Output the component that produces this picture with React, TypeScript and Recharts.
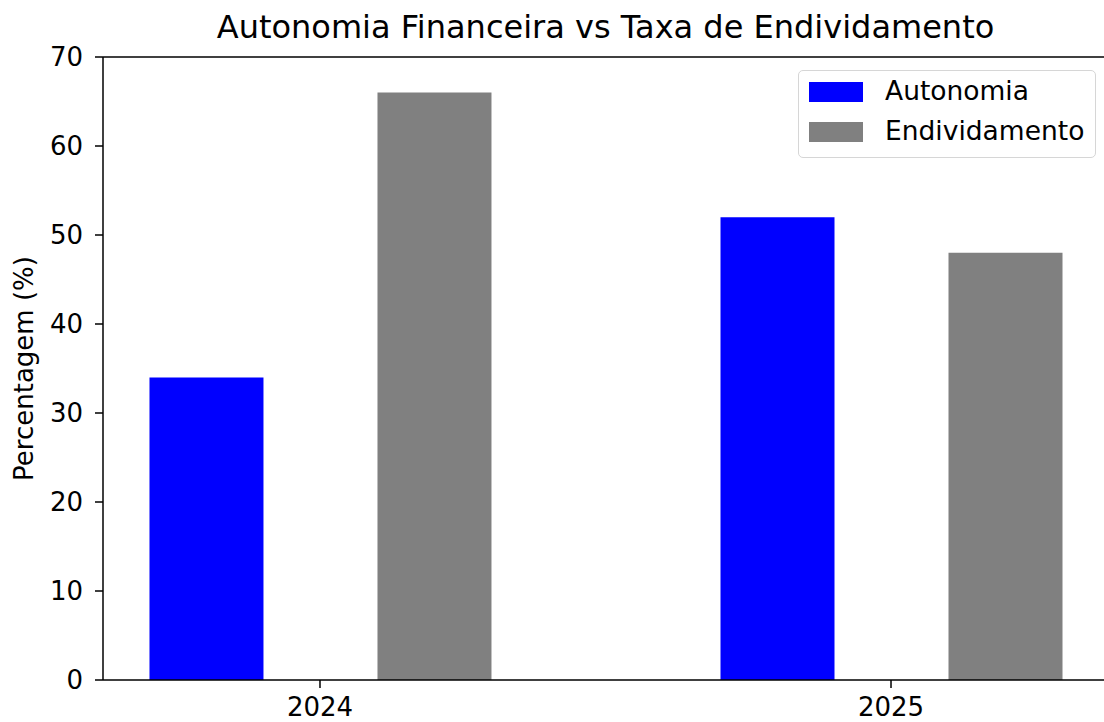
import { BarChart, Bar, XAxis, YAxis, ReferenceLine } from "recharts";

const years = ["2024", "2025"];
const autonomia = [34, 52];
const endividamento = [66, 48];
const yTicks = [0, 10, 20, 30, 40, 50, 60, 70];

const FONT = "'DejaVu Sans', sans-serif";
const BLUE = "#0000ff";
const GREY = "#808080";

const data = years.map((_y, i) => ({
  x: i,
  autonomia: autonomia[i],
  endividamento: endividamento[i],
}));

const LegendBox = () => {
  const items = [
    { name: "Autonomia", color: BLUE },
    { name: "Endividamento", color: GREY },
  ];
  return (
    <div
      style={{
        position: "absolute",
        left: 798,
        top: 70,
        width: 298,
        height: 88,
        boxSizing: "border-box",
        border: "1.5px solid #d6d6d6",
        borderRadius: 5,
        background: "rgba(255,255,255,0.8)",
        fontFamily: FONT,
        fontSize: 26.5,
        color: "#000",
      }}
    >
      {items.map((it, i) => (
        <div key={it.name}>
          <div
            style={{
              position: "absolute",
              left: 10,
              top: 11 + i * 40,
              width: 54,
              height: 20,
              background: it.color,
            }}
          />
          <div
            style={{
              position: "absolute",
              left: 86,
              top: 5 + i * 40,
              lineHeight: "30px",
              whiteSpace: "nowrap",
            }}
          >
            {it.name}
          </div>
        </div>
      ))}
    </div>
  );
};

const App = () => {
  return (
    <div
      style={{
        position: "absolute",
        left: 0,
        top: 0,
        width: 1104,
        height: 722,
        overflow: "hidden",
        background: "#fff",
      }}
    >
      <div
        style={{
          position: "absolute",
          left: 0,
          top: 11,
          width: 1211,
          textAlign: "center",
          fontFamily: FONT,
          fontSize: 32,
          lineHeight: "32px",
          color: "#000",
          whiteSpace: "nowrap",
        }}
      >
        Autonomia Financeira vs Taxa de Endividamento
      </div>
      <BarChart
        width={1120}
        height={722}
        data={data}
        margin={{ top: 57, right: 12, bottom: 12, left: 0 }}
        barSize={114}
        barGap={114}
        style={{ position: "absolute", left: 0, top: 0 }}
      >
        <XAxis
          dataKey="x"
          type="number"
          domain={[-0.38, 1.38]}
          ticks={[0, 1]}
          allowDataOverflow
          tickFormatter={(v: number) => years[v]}
          height={30}
          tickSize={8}
          tickMargin={10}
          tick={{ fill: "#000", fontSize: 26, fontFamily: FONT }}
          tickLine={{ stroke: "#000", strokeWidth: 1.5 }}
          axisLine={{ stroke: "#000", strokeWidth: 1.5 }}
        />
        <YAxis
          type="number"
          domain={[0, 70]}
          ticks={yTicks}
          width={103}
          tickSize={8}
          tickMargin={12}
          tick={{ fill: "#000", fontSize: 26, fontFamily: FONT }}
          tickLine={{ stroke: "#000", strokeWidth: 1.5 }}
          axisLine={{ stroke: "#000", strokeWidth: 1.5 }}
          label={{
            value: "Percentagem (%)",
            angle: -90,
            position: "center",
            dx: -27.5,
            fill: "#000",
            fontSize: 26,
            fontFamily: FONT,
          }}
        />
        <ReferenceLine y={70} stroke="#000" strokeWidth={1.5} />
        <ReferenceLine x={1.38} stroke="#000" strokeWidth={1.5} />
        <Bar
          dataKey="autonomia"
          name="Autonomia"
          fill={BLUE}
          isAnimationActive={false}
        />
        <Bar
          dataKey="endividamento"
          name="Endividamento"
          fill={GREY}
          isAnimationActive={false}
        />
      </BarChart>
      <LegendBox />
    </div>
  );
};

export default App;
